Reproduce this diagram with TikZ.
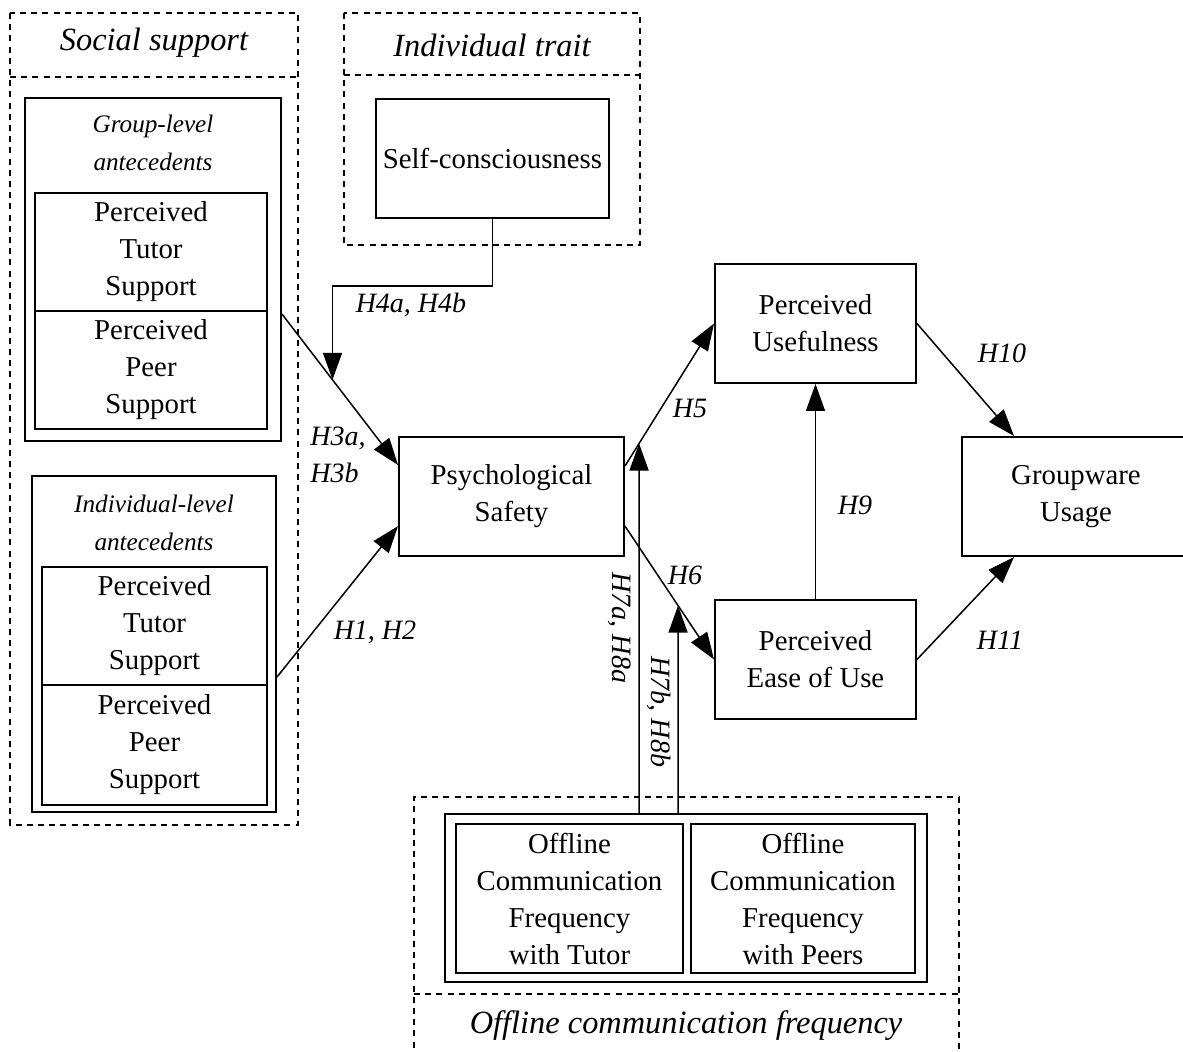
\documentclass[tikz,border=0pt]{standalone}
\usepackage{fontspec}
\setmainfont{Liberation Serif}
\usetikzlibrary{arrows.meta,calc}

\newcommand\bodyfont{\fontsize{14.4}{18.5}\selectfont}
\newcommand\labfont{\itshape\fontsize{14}{18.5}\selectfont}
\newcommand\subfont{\itshape\fontsize{12.6}{19}\selectfont}
\newcommand\titlefont{\itshape\fontsize{16.2}{20}\selectfont}

\tikzset{
  frame/.style={draw, line width=0.7pt, dash pattern=on 3pt off 2.6pt},
  box/.style={draw, line width=0.95pt, align=center, inner sep=0pt, font=\bodyfont},
  holder/.style={draw, line width=0.95pt, inner sep=0pt},
  link/.style={line width=0.75pt, -{Triangle[length=13.5pt,width=9.5pt]}},
  hlab/.style={font=\labfont, inner sep=0pt},
  title/.style={font=\titlefont, inner sep=0pt},
  subtitle/.style={font=\subfont, align=center, inner sep=0pt},
}

\begin{document}
\begin{tikzpicture}[x=0.5pt, y=-0.5pt]
\useasboundingbox (0,0) rectangle (1183,1052);

% dashed group frames
\draw[frame] (10,13) rectangle (298,825);
\draw[frame] (10,77) -- (298,77);
\draw[frame] (344,13) rectangle (640,245);
\draw[frame] (344,75) -- (640,75);
\draw[frame] (414,1070) -- (414,797) -- (959,797) -- (959,1070);
\draw[frame] (414,994) -- (959,994);

\node[title] (tsoc) at (154,43) {Social support};
\node[title] (tind) at (492,45) {Individual trait};
\node[title] (toff) at (686,1026) {Offline communication frequency};

% social support antecedents
\node[holder, minimum width=128pt, minimum height=171.5pt] (grp) at (153,269.5) {};
\node[subtitle] (grpt) at (153,143) {Group-level\\antecedents};
\node[box, minimum width=116pt, minimum height=59pt] (gtut) at (151,252) {Perceived\\Tutor\\Support};
\node[box, minimum width=116pt, minimum height=59pt] (gpeer) at (151,370) {Perceived\\Peer\\Support};

\node[holder, minimum width=122pt, minimum height=168pt] (ind) at (154,644) {};
\node[subtitle] (indt) at (154,523) {Individual-level\\antecedents};
\node[box, minimum width=112.5pt, minimum height=59pt] (itut) at (154.5,626) {Perceived\\Tutor\\Support};
\node[box, minimum width=112.5pt, minimum height=60pt] (ipeer) at (154.5,745) {Perceived\\Peer\\Support};

% trait
\node[box, minimum width=116.5pt, minimum height=59.5pt] (self) at (492.5,158.5) {Self-consciousness};

% core model
\node[box, minimum width=112.5pt, minimum height=59.5pt] (ps) at (511.5,496.5) {Psychological\\Safety};
\node[box, minimum width=100.5pt, minimum height=59.5pt] (pu) at (815.5,323.5) {Perceived\\Usefulness};
\node[box, minimum width=100.5pt, minimum height=59.5pt] (pe) at (815.5,659.5) {Perceived\\Ease of Use};
\node[box, minimum width=114pt, minimum height=59.5pt] (gu) at (1076,496.5) {Groupware\\Usage};

% offline communication
\node[holder, minimum width=241pt, minimum height=84pt] (off) at (686,898) {};
\node[box, minimum width=113.5pt, minimum height=74.5pt] (otut) at (569.5,898.5) {Offline\\Communication\\Frequency\\with Tutor};
\node[box, minimum width=112pt, minimum height=74.5pt] (opeer) at (803,898.5) {Offline\\Communication\\Frequency\\with Peers};

% connector end points
\coordinate (h3s) at ($(grp.north east)+(0,217)$);
\coordinate (h3e) at ($(ps.north west)+(0,29)$);
\coordinate (h1s) at ($(ind.north east)+(0,202)$);
\coordinate (h1e) at ($(ps.north west)+(0,90)$);
\coordinate (h4k1) at ($(self.south)+(0,67)$);
\coordinate (h4k2) at ($(h4k1)+(-160,0)$);
\coordinate (h4k3) at ($(h4k2)+(0,200)$);
\coordinate (h5s) at ($(ps.north east)+(0,30)$);
\coordinate (h5e) at (pu.west);
\coordinate (h6s) at ($(ps.north east)+(0,90)$);
\coordinate (h6e) at (pe.west);
\coordinate (h7a) at ($(off.north west)+(195,0)$);
\coordinate (h7a2) at ($(h7a)+(0,-500)$);
\coordinate (h7b) at ($(off.north west)+(234,0)$);
\coordinate (h7b2) at ($(h7b)+(0,-500)$);

% hypotheses
\draw[link] (h3s) -- (h3e);
\draw[link] (h1s) -- (h1e);
\draw[link] (self.south) |- (h4k2) -- (intersection of h3s--h3e and h4k2--h4k3);
\draw[link] (h5s) -- (h5e);
\draw[link] (h6s) -- (h6e);
\draw[link] (h7a) -- (intersection of h5s--h5e and h7a--h7a2);
\draw[link] (h7b) -- (intersection of h6s--h6e and h7b--h7b2);
\draw[link] (pe.north) -- (pu.south);
\draw[link] (pu.east) -- ($(gu.north west)+(53,0)$);
\draw[link] (pe.east) -- ($(gu.south west)+(53,0)$);

% hypothesis labels
\node[hlab] (l4) at (411,305) {H4a, H4b};
\node[hlab, align=left, anchor=west] (l3) at (310,455) {H3a,\\H3b};
\node[hlab] (l1) at (375,632) {H1, H2};
\node[hlab] (l5) at (690,408) {H5};
\node[hlab] (l6) at (685,575) {H6};
\node[hlab] (l9) at (855,505) {H9};
\node[hlab] (l10) at (1002,353) {H10};
\node[hlab] (l11) at (1000,640) {H11};
\node[hlab, rotate=-90] (l7a) at (620,628) {H7a, H8a};
\node[hlab, rotate=-90] (l7b) at (659,712) {H7b, H8b};
\end{tikzpicture}
\end{document}
